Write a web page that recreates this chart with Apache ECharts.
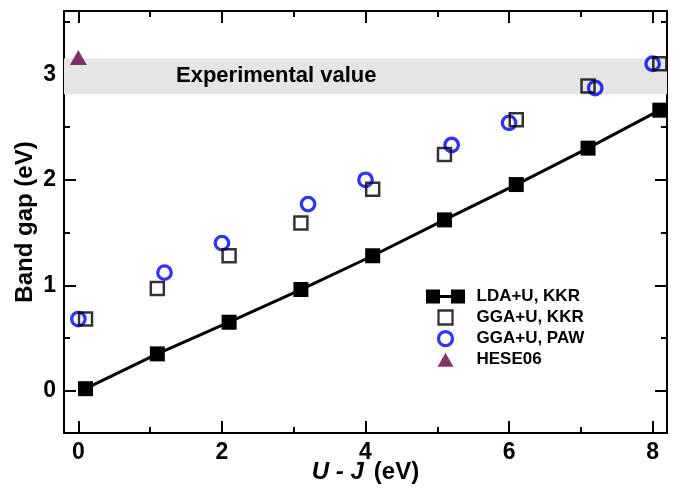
<!DOCTYPE html>
<html><head><meta charset="utf-8">
<script src="https://cdn.jsdelivr.net/npm/echarts@6/dist/echarts.min.js"></script>
<style>html,body{margin:0;padding:0;background:#fff}#c{width:681px;height:489px}</style>
</head><body><div id="c"></div>
<script>
const ldaX = [0.1, 1.1, 2.1, 3.1, 4.1, 5.1, 6.1, 7.1, 8.1];
const ldaY = [0.02, 0.35, 0.65, 0.96, 1.28, 1.62, 1.955, 2.30, 2.66];
const ggaKkrX = [0.1, 1.1, 2.1, 3.1, 4.1, 5.1, 6.1, 7.1, 8.1];
const ggaKkrY = [0.68, 0.97, 1.28, 1.59, 1.91, 2.24, 2.57, 2.89, 3.10];
const ggaPawX = [0, 1.2, 2.0, 3.2, 4.0, 5.2, 6.0, 7.2, 8.0];
const ggaPawY = [0.68, 1.12, 1.40, 1.77, 2.00, 2.33, 2.54, 2.87, 3.10];
const heseX = [0];
const heseY = [3.16];
const expBand = [2.81, 3.15];
const xMajor = [0, 2, 4, 6, 8];
const xMinor = [1, 3, 5, 7];
const yMajor = [0, 1, 2, 3];
const yMinor = [0.5, 1.5, 2.5, 3.5];
const seriesNames = ['LDA+U, KKR', 'GGA+U, KKR', 'GGA+U, PAW', 'HESE06'];

const FONT = 'Liberation Sans';
const pair = (xs, ys) => xs.map((x, i) => [x, ys[i]]);

function xAx(pos, vals, len, main) {
  return {
    type: 'value', position: pos, min: -0.2, max: 8.2,
    axisLine: { show: main, onZero: false, lineStyle: { color: '#000', width: 2 } },
    axisTick: { show: true, inside: true, length: len, customValues: vals, lineStyle: { color: '#000', width: 2 } },
    axisLabel: main && pos === 'bottom' ? { show: true, customValues: xMajor, margin: 8, color: '#000', fontFamily: FONT, fontWeight: 'bold', fontSize: 23 } : { show: false },
    splitLine: { show: false },
    name: main && pos === 'bottom' ? '{i|U - J}   {n|(eV)}' : '',
    nameLocation: 'middle', nameGap: 27, nameMoveOverlap: false,
    nameTextStyle: { rich: {
      i: { fontFamily: FONT, fontWeight: 'bold', fontStyle: 'italic', fontSize: 24, color: '#000' },
      n: { fontFamily: FONT, fontWeight: 'bold', fontSize: 24, color: '#000' } } }
  };
}
function yAx(pos, vals, len, main) {
  return {
    type: 'value', position: pos, min: -0.4, max: 3.6,
    axisLine: { show: main, onZero: false, lineStyle: { color: '#000', width: 2 } },
    axisTick: { show: true, inside: true, length: len, customValues: vals, lineStyle: { color: '#000', width: 2 } },
    axisLabel: main && pos === 'left' ? { show: true, customValues: yMajor, margin: 8, color: '#000', fontFamily: FONT, fontWeight: 'bold', fontSize: 23 } : { show: false },
    splitLine: { show: false },
    name: main && pos === 'left' ? 'Band gap (eV)' : '',
    nameLocation: 'middle', nameGap: 27, nameMoveOverlap: false,
    nameTextStyle: { fontFamily: FONT, fontWeight: 'bold', fontSize: 24, color: '#000' }
  };
}

const chart = echarts.init(document.getElementById('c'), null, { renderer: 'canvas' });
chart.setOption({
  animation: false,
  backgroundColor: '#fff',
  grid: { left: 64, right: 14, top: 11, bottom: 56, containLabel: false, outerBoundsMode: 'none' },
  xAxis: [xAx('bottom', xMajor, 12, true), xAx('bottom', xMinor, 6, false), xAx('top', xMajor, 12, true), xAx('top', xMinor, 6, false)],
  yAxis: [yAx('left', yMajor, 12, true), yAx('left', yMinor, 6, false), yAx('right', yMajor, 12, true), yAx('right', yMinor, 6, false)],
  legend: {
    left: 426, top: 288, orient: 'vertical', padding: 0, itemWidth: 40, itemHeight: 14, itemGap: 4,
    textStyle: { fontFamily: FONT, fontWeight: 'bold', fontSize: 17, color: '#000', padding: [0, 0, 0, 6] },
    data: [
      { name: seriesNames[0], icon: 'path://M0,0h14v14h-14z M25,0h14v14h-14z M14,5.5h11v3h-11z' },
      { name: seriesNames[1], icon: 'path://M0,0h14v14h-14z', itemStyle: { color: 'rgba(0,0,0,0)', borderColor: '#000', borderWidth: 2.3 } },
      { name: seriesNames[2], icon: 'path://M7,0A7,7 0 1,1 6.99,0z', itemStyle: { color: 'rgba(0,0,0,0)', borderColor: '#0000ff', borderWidth: 3.3 } },
      { name: seriesNames[3], icon: 'path://M8.5,0L17,15H0z', itemStyle: { color: '#660044' } }
    ]
  },
  series: [
    {
      name: seriesNames[0], type: 'line', data: pair(ldaX, ldaY),
      symbol: 'rect', symbolSize: 15, color: '#000',
      lineStyle: { color: '#000', width: 3 }, itemStyle: { color: '#000' }, z: 3,
      markArea: {
        silent: true, itemStyle: { color: '#e5e5e5' },
        label: { show: true, position: 'insideLeft', distance: 112, color: '#000', fontFamily: FONT, fontWeight: 'bold', fontSize: 22 },
        data: [[{ name: 'Experimental value', yAxis: expBand[0] }, { yAxis: expBand[1] }]]
      }
    },
    {
      name: seriesNames[2], type: 'scatter', data: pair(ggaPawX, ggaPawY),
      symbol: 'circle', symbolSize: 13.5, color: '#0000ff',
      itemStyle: { color: 'rgba(0,0,0,0)', borderColor: '#0000ff', borderWidth: 3.3 }, z: 4
    },
    {
      name: seriesNames[1], type: 'scatter', data: pair(ggaKkrX, ggaKkrY),
      symbol: 'rect', symbolSize: 13, color: '#000',
      itemStyle: { color: 'rgba(0,0,0,0)', borderColor: '#000', borderWidth: 2.5 }, z: 5
    },
    {
      name: seriesNames[3], type: 'scatter', data: pair(heseX, heseY),
      symbol: 'triangle', symbolSize: [17, 15], color: '#660044',
      itemStyle: { color: '#660044' }, z: 4
    }
  ]
});
</script></body></html>
